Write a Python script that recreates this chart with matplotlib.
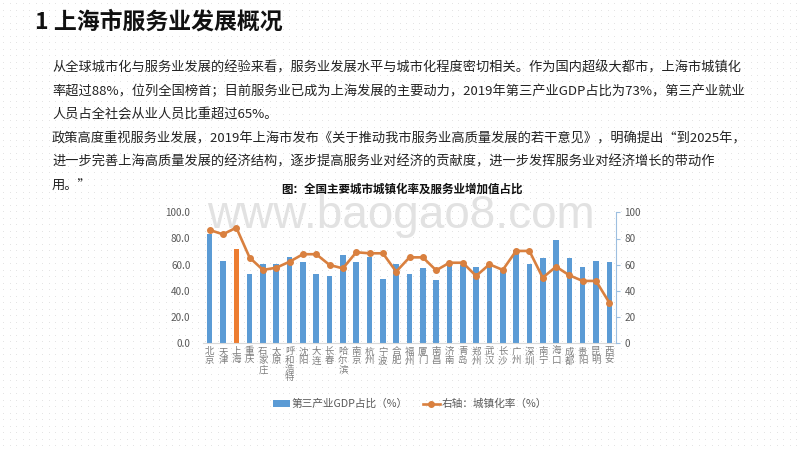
import matplotlib
matplotlib.use("Agg")
import matplotlib.pyplot as plt
from matplotlib.patches import Patch
from matplotlib.lines import Line2D
import numpy as np

plt.rcParams['font.family'] = ['Noto Sans CJK SC', 'DejaVu Sans']

# data
cities = ["北京", "天津", "上海", "重庆", "石家庄", "太原", "呼和浩特", "沈阳", "大连", "长春",
          "哈尔滨", "南京", "杭州", "宁波", "合肥", "福州", "厦门", "南昌", "济南", "青岛",
          "郑州", "武汉", "长沙", "广州", "深圳", "南宁", "海口", "成都", "贵阳", "昆明", "西安"]
gdp_share = [83.2, 62.8, 72.0, 52.9, 60.3, 60.5, 65.6, 61.8, 52.9, 51.4,
             67.2, 61.8, 65.6, 48.8, 60.3, 52.9, 57.7, 48.3, 59.8, 59.8,
             58.5, 59.0, 57.2, 71.0, 60.5, 64.9, 78.6, 64.9, 58.5, 63.0, 62.3]
urban_rate = [86.5, 83.2, 88.3, 65.4, 56.0, 57.7, 62.3, 68.0, 68.0, 59.8,
              57.2, 69.5, 68.7, 68.7, 54.7, 65.6, 65.6, 55.7, 61.5, 61.5,
              51.4, 60.3, 56.0, 70.5, 70.5, 50.1, 58.5, 51.9, 47.6, 47.6, 31.0]
highlight = "上海"

heading = "1 上海市服务业发展概况"
paragraph = [
    "从全球城市化与服务业发展的经验来看，服务业发展水平与城市化程度密切相关。作为国内超级大都市，上海市城镇化",
    "率超过88%，位列全国榜首；目前服务业已成为上海发展的主要动力，2019年第三产业GDP占比为73%，第三产业就业",
    "人员占全社会从业人员比重超过65%。",
    "政策高度重视服务业发展，2019年上海市发布《关于推动我市服务业高质量发展的若干意见》，明确提出“到2025年，",
    "进一步完善上海高质量发展的经济结构，逐步提高服务业对经济的贡献度，进一步发挥服务业对经济增长的带动作",
    "用。”",
]
chart_title = "图：全国主要城市城镇化率及服务业增加值占比"

blue = "#5B9BD5"
orange = "#ED7D31"
line_col = "#D9803F"
grey = "#595959"

W, H = 800, 450
fig = plt.figure(figsize=(8, 4.5), dpi=100)
fig.patch.set_facecolor("white")

# dotted page background
bg = fig.add_axes([0, 0, 1, 1], zorder=-2)
gx, gy = np.meshgrid(np.arange(3, W, 6.5), np.arange(3, H, 6.5))
bg.scatter(gx.ravel(), gy.ravel(), s=0.25, color="#d4d4d4", linewidths=0)
bg.set_xlim(0, W)
bg.set_ylim(H, 0)
bg.axis("off")

# texts
fig.text(35 / W, 1 - 22 / H, heading, fontsize=16.5, fontweight="bold", color="#111111",
         ha="left", va="center")
line_y = [68, 91, 115, 139, 162, 186]
for txt, y in zip(paragraph, line_y):
    fig.text(52 / W, 1 - y / H, txt, fontsize=9.5, color="#222222", ha="left", va="center")
fig.text(402 / W, 1 - 189 / H, chart_title, fontsize=8.3, fontweight="bold", color="#111111",
         ha="center", va="center")

# watermark
fig.text(401 / W, 1 - 228 / H, "www.baogao8.com", fontsize=33, family="Liberation Sans",
         color="#e2e2e2", ha="center", va="baseline", zorder=-1)

# chart
ax = fig.add_axes([203 / W, 1 - 343.3 / H, 413 / W, 131 / H])
ax.set_facecolor("none")
x = np.arange(len(cities))
colors = [orange if c == highlight else blue for c in cities]
ax.bar(x, gdp_share, width=0.42, color=colors, zorder=2)
ax.set_xlim(-0.5, len(cities) - 0.5)
ax.set_ylim(0, 100)
ax.set_yticks(np.arange(0, 101, 20))
ax.set_yticklabels([f"{v:.1f}" for v in np.arange(0, 101, 20)])
ax.tick_params(axis="y", length=0, pad=9, labelsize=7.2, labelcolor=grey)
ax.set_xticks(x)
ax.set_xticklabels(["\n".join(c) for c in cities], linespacing=0.95)
ax.tick_params(axis="x", length=0, pad=3, labelsize=6.8, labelcolor="#7f7f7f")
for s in ["left", "top", "right"]:
    ax.spines[s].set_visible(False)
ax.spines["bottom"].set_color("#d9d9d9")
ax.spines["bottom"].set_linewidth(0.8)

ax2 = ax.twinx()
ax2.plot(x, urban_rate, color=line_col, linewidth=1.9, marker="o", markersize=4, zorder=3)
ax2.set_ylim(0, 100)
ax2.set_yticks(np.arange(0, 101, 20))
ax2.tick_params(axis="y", length=3, width=0.8, color="#9DBFE0", pad=3, labelsize=7.2,
                labelcolor=grey)
for s in ["left", "top", "bottom"]:
    ax2.spines[s].set_visible(False)
ax2.spines["right"].set_color("#9DBFE0")
ax2.spines["right"].set_linewidth(0.8)

handles = [Patch(facecolor=blue, edgecolor="none"),
           Line2D([0], [0], color=line_col, linewidth=1.9, marker="o", markersize=4)]
labels = ["第三产业GDP占比（%）", "右轴：城镇化率（%）"]
leg = fig.legend(handles, labels, loc="center", bbox_to_anchor=(410 / W, 1 - 404 / H), ncol=2,
                 frameon=False, fontsize=7.7, handlelength=1.6, handleheight=0.6,
                 handletextpad=0.2, columnspacing=1.4)
for t in leg.get_texts():
    t.set_color(grey)

fig.savefig("out.png", dpi=100)
